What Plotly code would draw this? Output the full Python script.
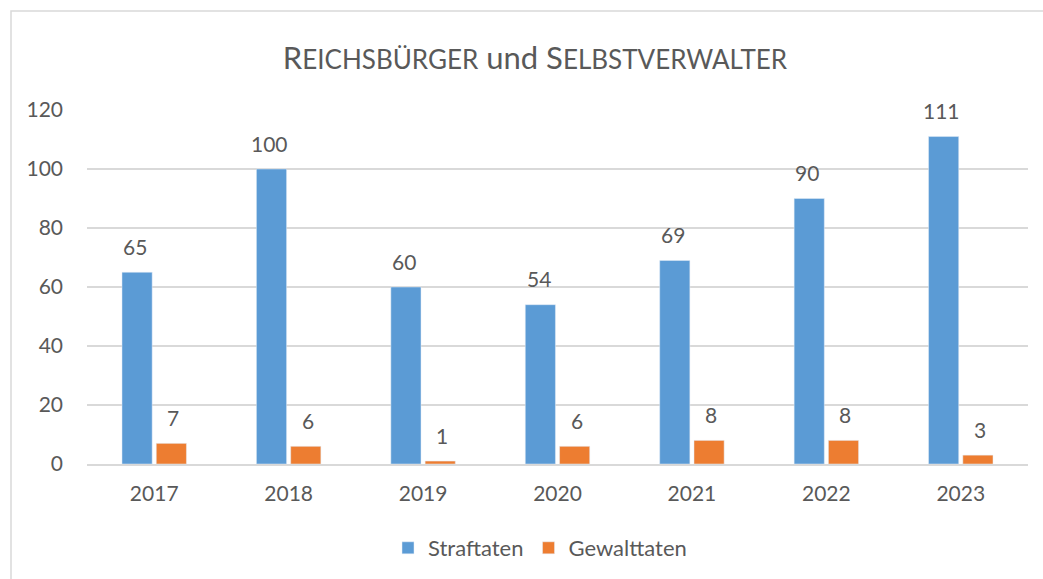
import plotly.graph_objects as go

years = ["2017", "2018", "2019", "2020", "2021", "2022", "2023"]
straftaten = [65, 100, 60, 54, 69, 90, 111]
gewalttaten = [7, 6, 1, 6, 8, 8, 3]
y_ticks = [0, 20, 40, 60, 80, 100, 120]

FONT = "Lato"
TXT = "#595959"
BLUE = "#5B9BD5"
ORANGE = "#ED7D31"
GRID = "#D9D9D9"

W, H = 1043, 579
L, R, T, B = 87, 15, 110, 115
pw, ph = W - L - R, H - T - B

fig = go.Figure()
fig.add_trace(go.Bar(x=years, y=straftaten, name="Straftaten", marker_color=BLUE))
fig.add_trace(go.Bar(x=years, y=gewalttaten, name="Gewalttaten", marker_color=ORANGE))

annotations = []
for series, shift in ((straftaten, -19), (gewalttaten, 19)):
    for i, v in enumerate(series):
        annotations.append(dict(x=i, y=v, xref="x", yref="y", text=str(v), showarrow=False,
                                xshift=shift, yshift=26, yanchor="middle",
                                font=dict(family=FONT, size=21, color=TXT)))

title_text = ("R<span style='font-size:26px'>EICHSBÜRGER</span> und "
              "S<span style='font-size:26px'>ELBSTVERWALTER</span>")

fig.update_layout(
    width=W, height=H,
    margin=dict(l=L, r=R, t=T, b=B, autoexpand=False),
    paper_bgcolor="white", plot_bgcolor="white",
    font=dict(family=FONT, size=21, color=TXT),
    barmode="group", bargap=0.49, bargroupgap=0.12,
    title=dict(text=title_text, x=535 / W, xanchor="center", xref="container",
               y=1 - 58 / H, yanchor="middle", yref="container",
               font=dict(family=FONT, size=31, color=TXT)),
    showlegend=True,
    hovermode=False,
    legend=dict(orientation="h", xref="container", yref="container",
                x=540 / W, xanchor="center", y=1 - 548 / H, yanchor="middle",
                itemwidth=30,
                font=dict(family=FONT, size=22, color=TXT), traceorder="normal"),
    annotations=annotations,
    shapes=[dict(type="rect", xref="paper", yref="paper",
                 x0=(11 - L) / pw, x1=(W + 20 - L) / pw,
                 y0=-(H + 20 - T - ph) / ph, y1=(H - B - 11) / ph,
                 line=dict(color=GRID, width=1.5), fillcolor="rgba(0,0,0,0)", layer="below")],
)
fig.update_yaxes(range=[0, 120], tickvals=y_ticks, showgrid=True, gridcolor=GRID, gridwidth=1.5,
                 zeroline=False, showline=False, ticks="", ticklabelstandoff=23,
                 tickfont=dict(family=FONT, size=21, color=TXT))
fig.update_xaxes(type="category", categoryorder="array", categoryarray=years,
                 range=[-0.5, len(years) - 0.5], autorange=False,
                 showline=True, linecolor=GRID, linewidth=1.5, ticks="",
                 ticklabelstandoff=10, tickfont=dict(family=FONT, size=21, color=TXT))

fig.write_html("out.html", config={"displayModeBar": False},
               post_script="document.body.style.margin='0';")
